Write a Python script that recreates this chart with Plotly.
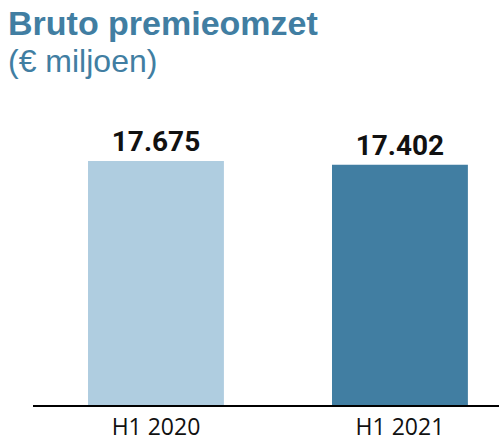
import plotly.graph_objects as go

# data
periods = ["H1 2020", "H1 2021"]
premium = [17675, 17402]
labels = ["17.675", "17.402"]
colors = ["#afcde0", "#417ea2"]

W, H = 499, 442
L, R, T, B = 33, 0, 100, 37
pw, ph = W - L - R, H - T - B


def px_x(x):
    return (x - L) / pw


def px_y(y):
    return (H - B - y) / ph


fig = go.Figure()
fig.add_bar(
    x=periods, y=premium, width=0.557,
    marker=dict(color=colors, line=dict(width=0)),
    text=labels, textposition="outside", cliponaxis=False,
    textfont=dict(family="Roboto", size=28, color="#111111", weight="bold"),
)

fig.update_layout(
    width=W, height=H,
    margin=dict(l=L, r=R, t=T, b=B),
    paper_bgcolor="white", plot_bgcolor="white",
    showlegend=False,
    xaxis=dict(
        range=[-0.504, 1.406], showline=True, linecolor="black", linewidth=2,
        ticks="", tickfont=dict(family="Open Sans", size=23, color="#111111"),
        showgrid=False,
    ),
    yaxis=dict(range=[0, 22094], visible=False),
)

fig.add_annotation(
    text="<b>Bruto premieomzet</b>", xref="paper", yref="paper",
    x=px_x(6), y=px_y(23), xanchor="left", yanchor="middle",
    showarrow=False, font=dict(family="Liberation Sans", size=34, color="#417ea2"),
)
fig.add_annotation(
    text="(€ miljoen)", xref="paper", yref="paper",
    x=px_x(6), y=px_y(61), xanchor="left", yanchor="middle",
    showarrow=False, font=dict(family="Liberation Sans", size=32, color="#417ea2"),
)

fig.write_html("out.html", config={"displayModeBar": False},
               post_script="document.body.style.margin='0';")
